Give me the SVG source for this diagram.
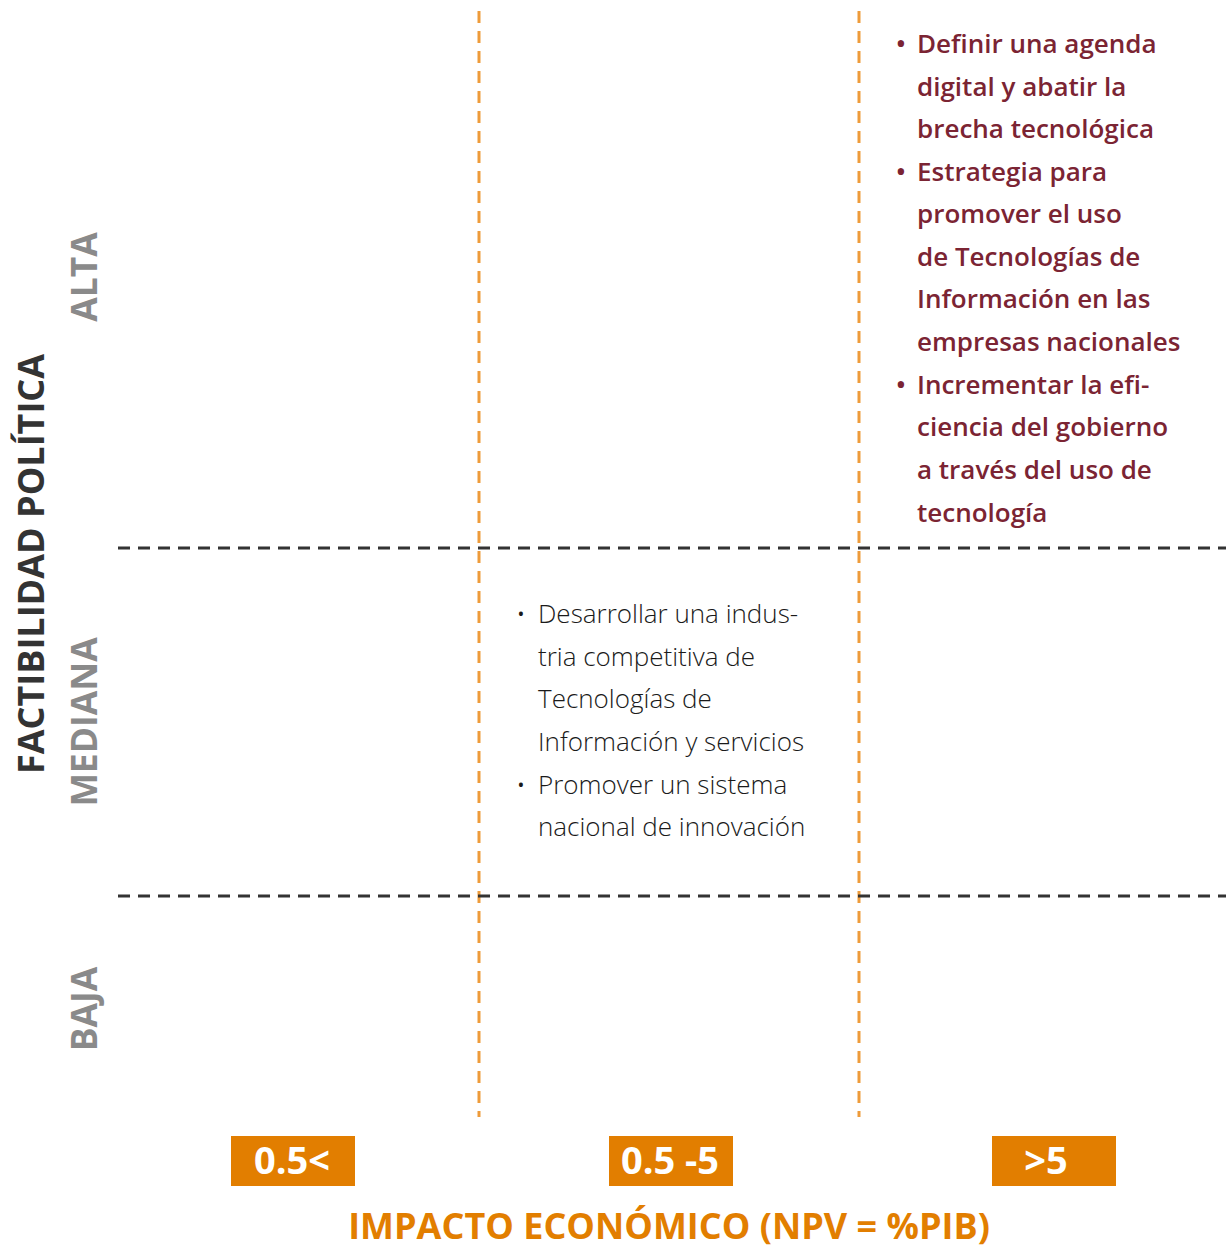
<svg xmlns="http://www.w3.org/2000/svg" width="1226" height="1249" viewBox="0 0 1226 1249">
<style>
.vl{stroke:#EE9B3A;stroke-width:3;stroke-dasharray:12 8;fill:none}
.hl{stroke:#333;stroke-width:3;stroke-dasharray:12 8;fill:none}
.red{font-family:"Open Sans","Noto Sans",sans-serif;font-size:26px;fill:#7B2433;font-weight:600}
.blk{font-family:"Open Sans","Noto Sans",sans-serif;font-size:26px;fill:#1a1a1a;font-weight:300}
.axis{font-family:"Open Sans","Noto Sans",sans-serif;font-weight:700;font-size:36px;fill:#333}
.lvl{font-family:"Open Sans","Noto Sans",sans-serif;font-weight:700;font-size:35.5px;fill:#8a8a8a}
.box{fill:#E27E00}
.boxt{font-family:"Open Sans","Noto Sans",sans-serif;font-weight:700;font-size:38px;fill:#fff;text-anchor:middle}
.title{font-family:"Open Sans","Noto Sans",sans-serif;font-weight:700;font-size:36px;fill:#E27E00;text-anchor:middle}
</style>
<rect width="1226" height="1249" fill="#fff"/>
<g id="grid">
<line class="vl" x1="479" y1="11" x2="479" y2="1117"/>
<line class="vl" x1="859" y1="11" x2="859" y2="1117"/>
<line class="hl" x1="118" y1="548" x2="1226" y2="548"/>
<line class="hl" x1="118" y1="896" x2="1226" y2="896"/>
</g>
<g id="y-axis">
<text class="axis" transform="translate(44,564) rotate(-90)" text-anchor="middle">FACTIBILIDAD POLÍTICA</text>
<text class="lvl" transform="translate(97,277) rotate(-90)" text-anchor="middle">ALTA</text>
<text class="lvl" transform="translate(97,722) rotate(-90)" text-anchor="middle">MEDIANA</text>
<text class="lvl" transform="translate(97,1009) rotate(-90)" text-anchor="middle">BAJA</text>
</g>
<g id="alta-high">
<text class="red"><tspan x="896" y="53">•</tspan><tspan x="917" y="53">Definir una agenda</tspan><tspan x="917" y="96">digital y abatir la</tspan><tspan x="917" y="138">brecha tecnológica</tspan><tspan x="896" y="181">•</tspan><tspan x="917" y="181">Estrategia para</tspan><tspan x="917" y="223">promover el uso</tspan><tspan x="917" y="266">de Tecnologías de</tspan><tspan x="917" y="308">Información en las</tspan><tspan x="917" y="351">empresas nacionales</tspan><tspan x="896" y="394">•</tspan><tspan x="917" y="394">Incrementar la efi-</tspan><tspan x="917" y="436">ciencia del gobierno</tspan><tspan x="917" y="479">a través del uso de</tspan><tspan x="917" y="522">tecnología</tspan></text>
</g>
<g id="mediana-mid">
<text class="blk"><tspan x="516" y="623">•</tspan><tspan x="538" y="623">Desarrollar una indus-</tspan><tspan x="538" y="666">tria competitiva de</tspan><tspan x="538" y="708">Tecnologías de</tspan><tspan x="538" y="751">Información y servicios</tspan><tspan x="516" y="794">•</tspan><tspan x="538" y="794">Promover un sistema</tspan><tspan x="538" y="836">nacional de innovación</tspan></text>
</g>
<g id="x-axis">
<g id="box1"><rect class="box" x="231" y="1136" width="124" height="50"/><text class="boxt" x="292" y="1174">0.5&lt;</text></g>
<g id="box2"><rect class="box" x="609" y="1136" width="124" height="50"/><text class="boxt" x="670" y="1174">0.5 -5</text></g>
<g id="box3"><rect class="box" x="992" y="1136" width="124" height="50"/><text class="boxt" x="1046" y="1174">&gt;5</text></g>
<text class="title" x="669" y="1239">IMPACTO ECONÓMICO (NPV = %PIB)</text>
</g>
</svg>
